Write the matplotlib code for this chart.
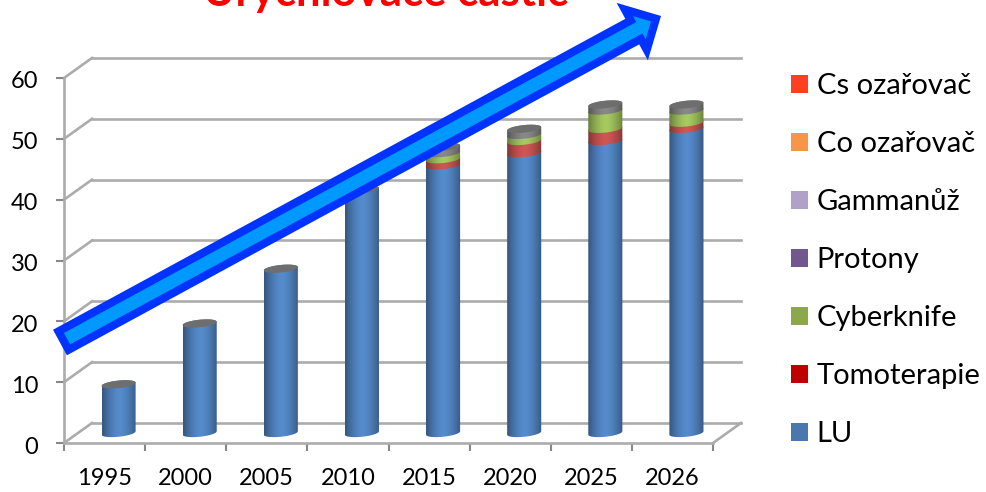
import numpy as np
import matplotlib
matplotlib.use('Agg')
import matplotlib.pyplot as plt
from matplotlib.patches import FancyArrow, Patch, PathPatch
from matplotlib.path import Path
from matplotlib.transforms import Affine2D

plt.rcParams['font.family'] = ['Lato', 'DejaVu Sans']

years = ['1995', '2000', '2005', '2010', '2015', '2020', '2025', '2026']
lu = [8, 18, 27, 40, 44, 46, 48, 50]
tomoterapie = [0, 0, 0, 0, 1, 2, 2, 1]
cyberknife = [0, 0, 0, 0, 1, 1, 3, 2]
# thin grey slice on the top of the newer columns
ostatni = [0, 0, 0, 0, 1, 1, 1, 1]

legend_names = ['Cs ozařovač', 'Co ozařovač', 'Gammanůž', 'Protony',
                'Cyberknife', 'Tomoterapie', 'LU']
legend_colors = ['#FF4020', '#F79646', '#B1A0C7', '#72578F',
                 '#8CA84B', '#C00000', '#4A78AD']

W = 986
H = 492
GREY = '#acacac'

# depth of the box in data units
depth_x = 0.345
depth_y = 3.29
bar_w = 0.42
rim = 0.62    # half height of the column ellipses
tilt = 0.28   # rise of the ellipses from left to right

fig = plt.figure(figsize=(W/100, H/100), dpi=100)
fig.patch.set_facecolor('white')
ax = fig.add_axes([64/W, 1-443/H, 649/W, 365/H])
ax.patch.set_visible(False)
ax.set_autoscale_on(False)

# back wall and floor of the box
for v in range(0, 70, 10):
    ax.plot([-0.5+depth_x, 7.5+depth_x], [v+depth_y, v+depth_y], color=GREY, lw=1.9,
            clip_on=False, zorder=1)
    ax.plot([-0.5, -0.5+depth_x], [v, v+depth_y], color=GREY, lw=1.9,
            clip_on=False, zorder=1)
ax.plot([7.5, 7.5+depth_x], [0, depth_y], color=GREY, lw=1.9, clip_on=False, zorder=1)


def shaded(color):
    rgb = np.array(matplotlib.colors.to_rgb(color))
    t = np.linspace(-1, 1, 64)
    shade = 1.08 - 0.40*np.abs(t - 0.02)**1.6
    return np.clip(rgb*shade[:, None], 0, 1)[None, :, :]


def outline(xc, y0, y1):
    t = np.linspace(np.pi, 2*np.pi, 30)
    xs = xc + bar_w/2*np.cos(t)
    low = y0 + rim*np.sin(t) + tilt*np.cos(t)
    xt = xs[::-1]
    up = y1 - rim*np.sin(t[::-1]) + tilt*np.cos(t[::-1])
    return np.column_stack([np.r_[xs, xt], np.r_[low, up]])


def column_part(xc, y0, y1, color):
    pts = outline(xc, y0, y1)
    clip = PathPatch(Path(np.vstack([pts, pts[:1]])), transform=ax.transData)
    im = ax.imshow(shaded(color), extent=[xc-bar_w/2, xc+bar_w/2, y0-1.5, y1+1.5],
                   aspect='auto', interpolation='bilinear', zorder=3)
    im.set_clip_path(clip)


def column_top(xc, y, color):
    t = np.linspace(0, 2*np.pi, 60)
    ax.fill(xc + bar_w/2*np.cos(t), y + rim*np.sin(t) + tilt*np.cos(t),
            color=color, lw=0, zorder=4)


for i in range(len(years)):
    xc = i + depth_x/2
    base = depth_y/2
    a = base + lu[i]
    b = a + tomoterapie[i]
    c = b + cyberknife[i]
    d = c + ostatni[i]
    column_part(xc, base, a, '#4F81BD')
    if tomoterapie[i] > 0:
        column_part(xc, a, b, '#C0504D')
    if cyberknife[i] > 0:
        column_part(xc, b, c, '#9BBB59')
    if ostatni[i] > 0:
        column_part(xc, c, d, '#7F7F7F')
    column_top(xc, d, '#6E6E6E')

ax.set_xlim(-0.5, 7.5)
ax.set_ylim(0, 60)

ax.spines['top'].set_visible(False)
ax.spines['right'].set_visible(False)
ax.spines['left'].set_color(GREY)
ax.spines['bottom'].set_color(GREY)
ax.spines['left'].set_linewidth(1.9)
ax.spines['bottom'].set_linewidth(1.9)

ax.set_yticks(range(0, 70, 10))
ax.tick_params(axis='y', labelsize=17, length=5.5, width=1.5, color='#888888', pad=13)
# y labels sit a little under their ticks
for tick in ax.yaxis.get_major_ticks():
    tick.label1.set_transform(tick.label1.get_transform() + Affine2D().translate(0, -2))
ax.set_xticks(np.arange(-0.5, 8, 1))
ax.set_xticklabels([])
ax.set_xticks(range(len(years)), labels=years, minor=True)
ax.tick_params(axis='x', which='major', length=6, width=1.5, color='#888888')
ax.tick_params(axis='x', which='minor', length=0, labelsize=17, pad=18)

handles = [Patch(facecolor=c, edgecolor='none', label=n)
           for n, c in zip(legend_names, legend_colors)]
fig.legend(handles=handles, loc='upper left', bbox_to_anchor=(791/W, 1-73/H),
           frameon=False, fontsize=21, handlelength=0.58, handleheight=0.58,
           handletextpad=0.3, labelspacing=1.1, borderpad=0, borderaxespad=0)

fig.text(386/W, 1-6/H, 'Urychlovače částic', color='#ff0000', fontsize=31.5, fontweight='bold',
         ha='center', va='baseline')

# big arrow over the columns, in pixels of the figure
over = fig.add_axes([0, 0, 1, 1])
over.set_xlim(0, W)
over.set_ylim(H, 0)
over.axis('off')
x0, y0, x1, y1 = 63.5, 340.6, 656, 18.7
arrow = FancyArrow(x0, y0, x1-x0, y1-y0, width=21, head_width=46, head_length=23,
                   length_includes_head=True, facecolor='#0099ff', edgecolor='#0033ff',
                   linewidth=5.8, joinstyle='miter', zorder=5)
over.add_patch(arrow)

fig.savefig('out.png', dpi=100)
